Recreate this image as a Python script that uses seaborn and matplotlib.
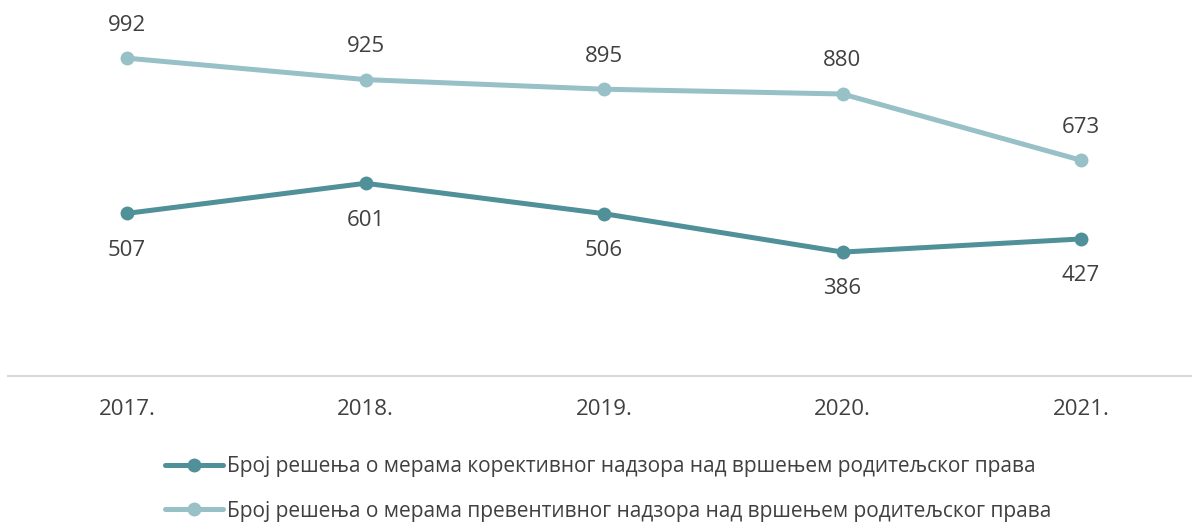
import matplotlib
matplotlib.use("Agg")
import matplotlib.pyplot as plt
import seaborn as sns
import pandas as pd

years = ["2017.", "2018.", "2019.", "2020.", "2021."]
corrective = [507, 601, 506, 386, 427]
preventive = [992, 925, 895, 880, 673]
series_names = [
    "Број решења о мерама корективног надзора над вршењем родитељског права",
    "Број решења о мерама превентивног надзора над вршењем родитељског права",
]
colors = ["#4f9099", "#97c0c7"]

sns.set_theme(style="white")
plt.rcParams["font.family"] = ["Open Sans", "DejaVu Sans"]

df = pd.DataFrame({
    "x": list(range(len(years))) * 2,
    "value": corrective + preventive,
    "series": [series_names[0]] * len(years) + [series_names[1]] * len(years),
})

fig = plt.figure(figsize=(11.92, 5.23), dpi=100)
W, H = 1192, 523
left_px, right_px = 7.75, 1200.25
top_px, bottom_px = 55.6, 375.6
ax = fig.add_axes([left_px / W, 1 - bottom_px / H, (right_px - left_px) / W, (bottom_px - top_px) / H])

sns.lineplot(data=df, x="x", y="value", hue="series", palette=colors,
             marker="o", markersize=10, linewidth=3.6, markeredgewidth=0,
             ax=ax, legend=False, clip_on=False)

text_color = "#404040"
for i, v in enumerate(corrective):
    ax.annotate(str(v), (i, v), xytext=(0, -26.5), textcoords="offset points",
                ha="center", va="center", fontsize=16, color=text_color,
                annotation_clip=False)
for i, v in enumerate(preventive):
    ax.annotate(str(v), (i, v), xytext=(0, 23.8), textcoords="offset points",
                ha="center", va="center", fontsize=16, color=text_color,
                annotation_clip=False)

ax.set_xlim(-0.5, 4.5)
ax.set_ylim(0, 1000)
ax.set_xticks(range(len(years)))
ax.set_xticklabels(years, fontsize=16, color=text_color)
ax.tick_params(axis="x", length=0, pad=17)
ax.set_yticks([])
ax.set_xlabel("")
ax.set_ylabel("")
for s in ["top", "left", "right"]:
    ax.spines[s].set_visible(False)
ax.spines["bottom"].set_color("#d9d9d9")
ax.spines["bottom"].set_linewidth(1.5)

handles = [plt.Line2D([], [], color=c, lw=3.6, marker="o", markersize=10,
                      markeredgewidth=0) for c in colors]
fig.legend(handles, series_names, loc="center", bbox_to_anchor=(608 / W, 1 - 489 / H),
           ncol=1, frameon=False, fontsize=15.0, labelcolor=text_color,
           handlelength=2.78, handletextpad=0.2, labelspacing=1.12)

fig.savefig("out.png", dpi=100, facecolor="white")
